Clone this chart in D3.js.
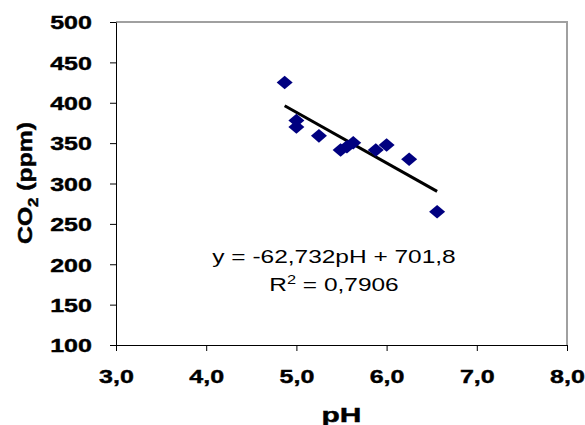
<!DOCTYPE html>
<html>
<head>
<meta charset="utf-8">
<script src="https://cdn.jsdelivr.net/npm/d3@7"></script>
<style>
  body { margin: 0; background: #fff; }
  svg text { font-family: Arial, "Liberation Sans", sans-serif; }
  .heavy { stroke: #000; stroke-width: 0.4px; }
</style>
</head>
<body>
<svg id="viz"></svg>
<script>
// measured points (pH vs CO2)
const phValues = [4.87, 5.0, 5.0, 5.25, 5.49, 5.56, 5.63, 5.88, 6.0, 6.25, 6.56];
const co2Values = [425, 378, 370, 359, 341.5, 345.6, 350.5, 341.5, 347.7, 330, 265];

// trendline from the chart label
const slope = -62.732;
const intercept = 701.8;
const equationLabel = "y = -62,732pH + 701,8";
const r2Label = "0,7906";

const xTicks = [3, 4, 5, 6, 7, 8];
const yTicks = [100, 150, 200, 250, 300, 350, 400, 450, 500];

const W = 585, H = 425;
const margin = { top: 22, right: 18, bottom: 80, left: 116 };
const stretch = 1.32; // text in the picture is wider than normal

const svg = d3.select("#viz").attr("width", W).attr("height", H);

const x = d3.scaleLinear().domain([3, 8]).range([margin.left, W - margin.right]);
const y = d3.scaleLinear().domain([100, 500]).range([H - margin.bottom, margin.top]);

const loc = d3.formatLocale({ decimal: ",", thousands: ".", grouping: [3], currency: ["", ""] });
const fmtX = loc.format(".1f");

// plot frame (grey top/right)
svg.append("path")
  .attr("d", `M${x(3)},${y(500)}H${x(8)}V${y(100)}`)
  .attr("fill", "none")
  .attr("stroke", "#a0a0a0")
  .attr("stroke-width", 2);

// y axis
const gy = svg.append("g")
  .attr("transform", `translate(${x(3)},0)`)
  .call(d3.axisLeft(y).tickValues(yTicks).tickSize(6).tickSizeOuter(0).tickPadding(0));
gy.select(".domain").attr("stroke", "#000");
gy.selectAll("text")
  .attr("class", "heavy")
  .attr("font-size", 19).attr("font-weight", "bold").attr("fill", "#000")
  .attr("x", -24 / stretch).attr("dy", "0.36em")
  .attr("transform", `scale(${stretch},1)`);

// x axis
const gx = svg.append("g")
  .attr("transform", `translate(0,${y(100)})`)
  .call(d3.axisBottom(x).tickValues(xTicks).tickFormat(fmtX).tickSize(6).tickSizeOuter(0));
gx.select(".domain").attr("stroke", "#000");
gx.selectAll("text")
  .attr("class", "heavy")
  .attr("font-size", 19).attr("font-weight", "bold").attr("fill", "#000")
  .attr("y", 38).attr("dy", 0)
  .attr("transform", `scale(${stretch},1)`);

// trendline over the data range
const xMin = d3.min(phValues), xMax = d3.max(phValues);
svg.append("line")
  .attr("x1", x(xMin)).attr("y1", y(slope * xMin + intercept))
  .attr("x2", x(xMax)).attr("y2", y(slope * xMax + intercept))
  .attr("stroke", "#000").attr("stroke-width", 3);

// diamonds
const pts = phValues.map((p, i) => [p, co2Values[i]]);
svg.append("g").selectAll("path")
  .data(pts)
  .enter()
  .append("path")
  .attr("transform", d => `translate(${x(d[0])},${y(d[1])})`)
  .attr("d", "M0,-6.8L8,0L0,6.8L-8,0Z")
  .attr("fill", "#000080");

// equation text
const cx = 334;
svg.append("text")
  .attr("transform", `translate(${cx},263) scale(1.36,1)`)
  .attr("text-anchor", "middle").attr("font-size", 18)
  .text(equationLabel);
const r2 = svg.append("text")
  .attr("transform", `translate(${cx},291) scale(1.36,1)`)
  .attr("text-anchor", "middle").attr("font-size", 18);
r2.append("tspan").text("R");
r2.append("tspan").attr("font-size", 12).attr("dy", -7).text("2");
r2.append("tspan").attr("dy", 7).text(" = " + r2Label);

// axis titles
svg.append("text")
  .attr("class", "heavy")
  .attr("transform", `translate(${(x(3) + x(8)) / 2},422) scale(1.5,1)`)
  .attr("text-anchor", "middle").attr("font-size", 20).attr("font-weight", "bold")
  .text("pH");

const yt = svg.append("text")
  .attr("class", "heavy")
  .attr("transform", `translate(32,${183}) rotate(-90) scale(1.3,1.1)`)
  .attr("text-anchor", "middle").attr("font-size", 19).attr("font-weight", "bold");
yt.append("tspan").text("CO");
yt.append("tspan").attr("font-size", 13).attr("dy", 5).text("2");
yt.append("tspan").attr("dy", -5).text(" (ppm)");
</script>
</body>
</html>
